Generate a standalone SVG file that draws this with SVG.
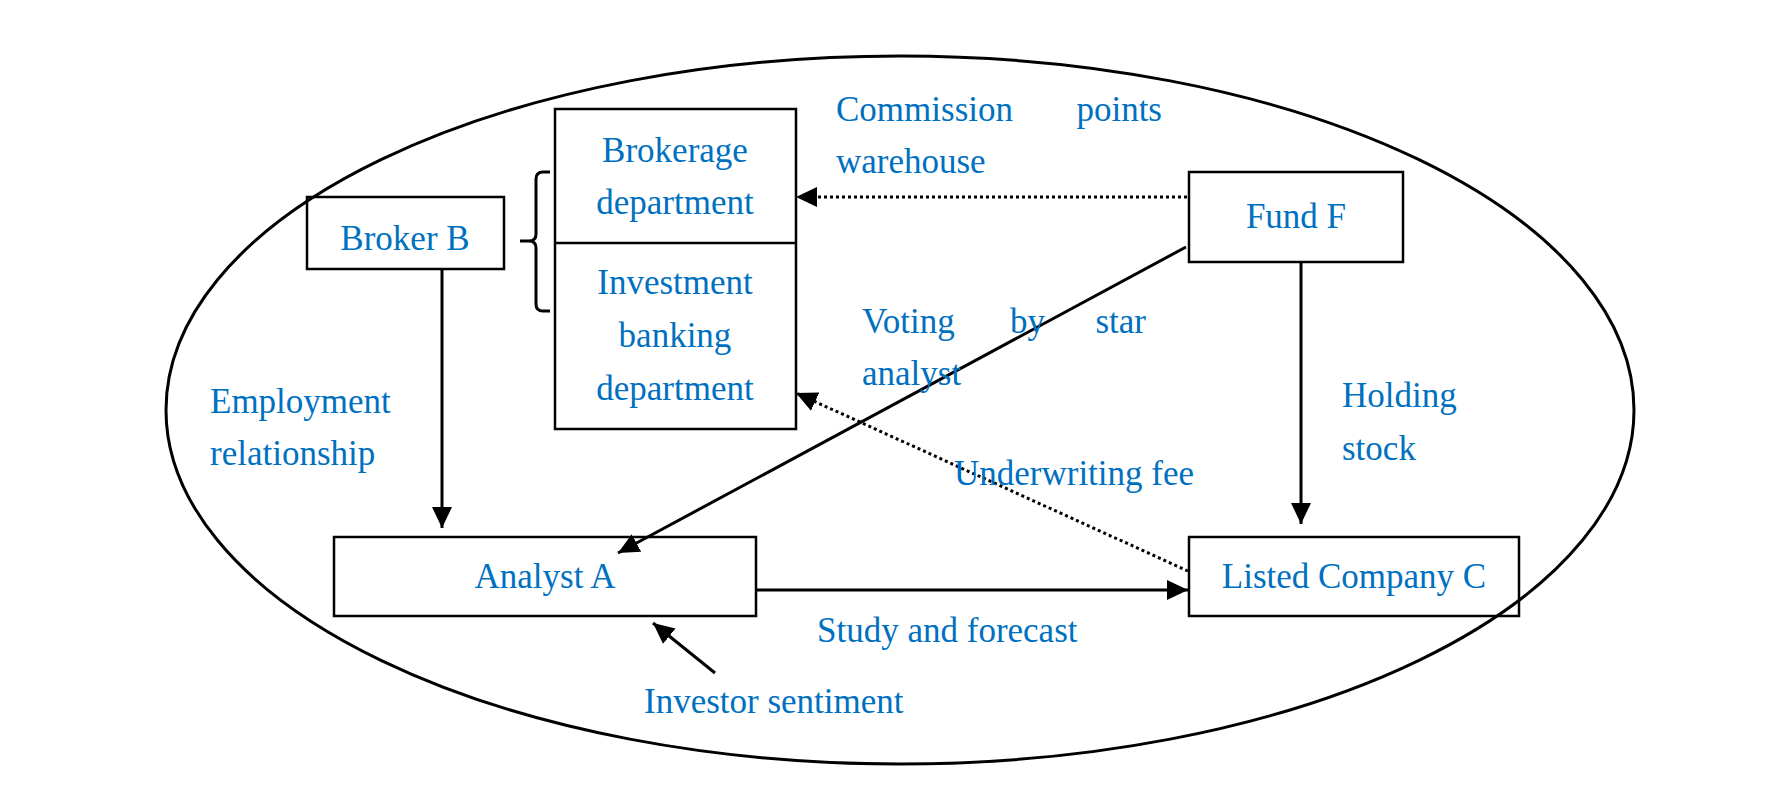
<svg xmlns="http://www.w3.org/2000/svg" width="1782" height="790" viewBox="0 0 1782 790">
<style>
.box{fill:none;stroke:#000;stroke-width:2.5}
.t{font-family:"Liberation Serif","Times New Roman",serif;font-size:35px;fill:#0070C0}
.c{text-anchor:middle}
.e{text-anchor:end}
.ln{fill:none;stroke:#000;stroke-width:3}
.dot{fill:none;stroke:#000;stroke-width:3;stroke-dasharray:3 3}
</style>
<defs>
<marker id="ah" markerUnits="userSpaceOnUse" markerWidth="22" markerHeight="22" viewBox="0 0 22 22" refX="21" refY="11" orient="auto">
<path d="M0,1 L21,11 L0,21 z" fill="#000"/>
</marker>
</defs>
<rect width="1782" height="790" fill="#fff"/>
<ellipse cx="900" cy="410" rx="734" ry="354" fill="none" stroke="#000" stroke-width="3"/>

<g id="broker-b">
<rect class="box" x="307" y="197" width="197" height="72"/>
<text class="t c" x="405" y="250">Broker B</text>
</g>

<g id="departments">
<rect class="box" x="555" y="109" width="241" height="320"/>
<line x1="555" y1="243" x2="796" y2="243" stroke="#000" stroke-width="2.5"/>
<text class="t c" x="675" y="162">Brokerage</text>
<text class="t c" x="675" y="214">department</text>
<text class="t c" x="675" y="294">Investment</text>
<text class="t c" x="675" y="347">banking</text>
<text class="t c" x="675" y="400">department</text>
</g>

<g id="fund-f">
<rect class="box" x="1189" y="172" width="214" height="90"/>
<text class="t c" x="1296" y="228">Fund F</text>
</g>

<g id="analyst-a">
<rect class="box" x="334" y="537" width="422" height="79"/>
<text class="t c" x="545" y="588">Analyst A</text>
</g>

<g id="listed-c">
<rect class="box" x="1189" y="537" width="330" height="79"/>
<text class="t c" x="1354" y="588">Listed Company C</text>
</g>

<g id="connectors">
<line class="ln" x1="442" y1="269" x2="442" y2="528" marker-end="url(#ah)"/>
<line class="ln" x1="1186" y1="247" x2="618" y2="553" marker-end="url(#ah)"/>
<line class="ln" x1="1301" y1="262" x2="1301" y2="524" marker-end="url(#ah)"/>
<line class="ln" x1="756" y1="590" x2="1188" y2="590" marker-end="url(#ah)"/>
<line class="ln" x1="715" y1="673" x2="653" y2="623" marker-end="url(#ah)"/>
<line class="dot" x1="1187" y1="197" x2="796" y2="197" marker-end="url(#ah)"/>
<line class="dot" x1="1188" y1="571" x2="796" y2="393" marker-end="url(#ah)"/>
<path class="ln" d="M550,172 L543,172 Q536,172 536,179 L536,234 Q536,241 529,241 L520,241 M529,241 Q536,241 536,248 L536,304 Q536,311 543,311 L550,311"/>
</g>

<g id="labels">
<text class="t" x="836" y="121">Commission</text>
<text class="t e" x="1162" y="121">points</text>
<text class="t" x="836" y="173">warehouse</text>
<text class="t" x="862" y="333">Voting</text>
<text class="t" x="1010" y="333">by</text>
<text class="t e" x="1146" y="333">star</text>
<text class="t" x="862" y="385">analyst</text>
<text class="t" x="210" y="413">Employment</text>
<text class="t" x="210" y="465">relationship</text>
<text class="t" x="1342" y="407">Holding</text>
<text class="t" x="1342" y="460">stock</text>
<text class="t" x="954" y="485">Underwriting fee</text>
<text class="t" x="817" y="642">Study and forecast</text>
<text class="t" x="644" y="713">Investor sentiment</text>
</g>
</svg>
